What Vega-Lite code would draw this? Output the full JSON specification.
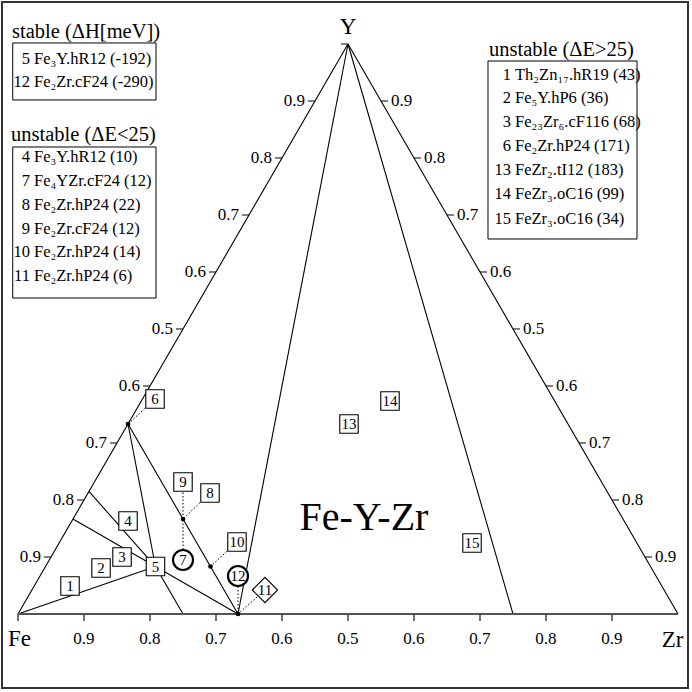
{
  "$schema": "https://vega.github.io/schema/vega-lite/v6.json",
  "width": 692,
  "height": 692,
  "autosize": {"type": "fit", "contains": "padding"},
  "padding": {"left": 2, "top": 2, "right": 4, "bottom": 4},
  "background": "white",
  "config": {"view": {"stroke": "#333", "strokeWidth": 2}, "font": "Liberation Serif, Times New Roman, DejaVu Serif, serif", "text": {"font": "Liberation Serif, Times New Roman, DejaVu Serif, serif"}},
  "datasets": {
    "edges": [
      {"x": 0, "y": 0, "x2": 0.5, "y2": 1},
      {"x": 0.5, "y": 1, "x2": 1, "y2": 0},
      {"x": 0, "y": 0, "x2": 0.2083, "y2": 0.0833},
      {"x": 0.0833, "y": 0.1667, "x2": 0.2083, "y2": 0.0833},
      {"x": 0.1075, "y": 0.215, "x2": 0.2083, "y2": 0.0833},
      {"x": 0.1667, "y": 0.3333, "x2": 0.2083, "y2": 0.0833},
      {"x": 0.2083, "y": 0.0833, "x2": 0.25, "y2": 0},
      {"x": 0.2083, "y": 0.0833, "x2": 0.3333, "y2": 0},
      {"x": 0.1667, "y": 0.3333, "x2": 0.3333, "y2": 0},
      {"x": 0.5, "y": 1, "x2": 0.3333, "y2": 0},
      {"x": 0.5, "y": 1, "x2": 0.75, "y2": 0}
    ],
    "base": [{"x": 0, "y": 0, "x2": 1, "y2": 0}],
    "leftTicks": [
      {"x": 0.05, "y": 0.1, "label": "0.9"},
      {"x": 0.1, "y": 0.2, "label": "0.8"},
      {"x": 0.15, "y": 0.3, "label": "0.7"},
      {"x": 0.2, "y": 0.4, "label": "0.6"},
      {"x": 0.25, "y": 0.5, "label": "0.5"},
      {"x": 0.3, "y": 0.6, "label": "0.6"},
      {"x": 0.35, "y": 0.7, "label": "0.7"},
      {"x": 0.4, "y": 0.8, "label": "0.8"},
      {"x": 0.45, "y": 0.9, "label": "0.9"},
      {"x": 0.5, "y": 1.0, "label": ""}
    ],
    "rightTicks": [
      {"x": 0.95, "y": 0.1, "label": "0.9"},
      {"x": 0.9, "y": 0.2, "label": "0.8"},
      {"x": 0.85, "y": 0.3, "label": "0.7"},
      {"x": 0.8, "y": 0.4, "label": "0.6"},
      {"x": 0.75, "y": 0.5, "label": "0.5"},
      {"x": 0.7, "y": 0.6, "label": "0.6"},
      {"x": 0.65, "y": 0.7, "label": "0.7"},
      {"x": 0.6, "y": 0.8, "label": "0.8"},
      {"x": 0.55, "y": 0.9, "label": "0.9"}
    ],
    "bottomTicks": [
      {"x": 0, "y": 0, "label": ""},
      {"x": 0.1, "y": 0, "label": "0.9"},
      {"x": 0.2, "y": 0, "label": "0.8"},
      {"x": 0.3, "y": 0, "label": "0.7"},
      {"x": 0.4, "y": 0, "label": "0.6"},
      {"x": 0.5, "y": 0, "label": "0.5"},
      {"x": 0.6, "y": 0, "label": "0.6"},
      {"x": 0.7, "y": 0, "label": "0.7"},
      {"x": 0.8, "y": 0, "label": "0.8"},
      {"x": 0.9, "y": 0, "label": "0.9"}
    ],
    "leaders": [
      {"x": 0.2076, "y": 0.3772, "x2": 0.1667, "y2": 0.3333},
      {"x": 0.25, "y": 0.2316, "x2": 0.25, "y2": 0.1667},
      {"x": 0.2909, "y": 0.2123, "x2": 0.25, "y2": 0.1667},
      {"x": 0.25, "y": 0.0947, "x2": 0.25, "y2": 0.1667},
      {"x": 0.3318, "y": 0.1263, "x2": 0.2917, "y2": 0.0833},
      {"x": 0.3333, "y": 0.0667, "x2": 0.3333, "y2": 0},
      {"x": 0.3742, "y": 0.0421, "x2": 0.3333, "y2": 0}
    ],
    "dots": [
      {"x": 0.1667, "y": 0.3333},
      {"x": 0.25, "y": 0.1667},
      {"x": 0.2917, "y": 0.0833},
      {"x": 0.3333, "y": 0}
    ],
    "squares": [
      {"n": "1", "x": 0.0788, "y": 0.0491},
      {"n": "2", "x": 0.1258, "y": 0.0807},
      {"n": "3", "x": 0.1576, "y": 0.1},
      {"n": "4", "x": 0.1667, "y": 0.1632},
      {"n": "5", "x": 0.2083, "y": 0.0833},
      {"n": "6", "x": 0.2076, "y": 0.3772},
      {"n": "8", "x": 0.2909, "y": 0.2123},
      {"n": "9", "x": 0.25, "y": 0.2316},
      {"n": "10", "x": 0.3318, "y": 0.1263},
      {"n": "13", "x": 0.5015, "y": 0.3333},
      {"n": "14", "x": 0.5636, "y": 0.3737},
      {"n": "15", "x": 0.6879, "y": 0.1246}
    ],
    "circles": [
      {"n": "7", "x": 0.25, "y": 0.0947},
      {"n": "12", "x": 0.3333, "y": 0.0667}
    ],
    "diamonds": [
      {"n": "11", "x": 0.3742, "y": 0.0421}
    ],
    "boxes": [
      {"x": -0.008, "x2": 0.2091, "y": 1.0018, "y2": 0.9018},
      {"x": -0.008, "x2": 0.2091, "y": 0.8193, "y2": 0.5544},
      {"x": 0.7121, "x2": 0.9379, "y": 0.9702, "y2": 0.6579}
    ],
    "headers": [
      {"x": -0.009, "y": 1.0105, "text": "stable (ΔH[meV])"},
      {"x": -0.0106, "y": 0.8298, "text": "unstable (ΔE<25)"},
      {"x": 0.7136, "y": 0.9789, "text": "unstable (ΔE>25)"}
    ],
    "items": [
      {"xn": 0.0182, "xt": 0.0242, "y": 0.9649, "num": "5", "name": "Fe₃Y.hR12 (-192)"},
      {"xn": 0.0182, "xt": 0.0242, "y": 0.9246, "num": "12", "name": "Fe₂Zr.cF24 (-290)"},
      {"xn": 0.0182, "xt": 0.0242, "y": 0.7930, "num": "4", "name": "Fe₃Y.hR12 (10)"},
      {"xn": 0.0182, "xt": 0.0242, "y": 0.7509, "num": "7", "name": "Fe₄YZr.cF24 (12)"},
      {"xn": 0.0182, "xt": 0.0242, "y": 0.7088, "num": "8", "name": "Fe₂Zr.hP24 (22)"},
      {"xn": 0.0182, "xt": 0.0242, "y": 0.6667, "num": "9", "name": "Fe₂Zr.cF24 (12)"},
      {"xn": 0.0182, "xt": 0.0242, "y": 0.6263, "num": "10", "name": "Fe₂Zr.hP24 (14)"},
      {"xn": 0.0182, "xt": 0.0242, "y": 0.5842, "num": "11", "name": "Fe₂Zr.hP24 (6)"},
      {"xn": 0.747, "xt": 0.753, "y": 0.9368, "num": "1", "name": "Th₂Zn₁₇.hR19 (43)"},
      {"xn": 0.747, "xt": 0.753, "y": 0.8965, "num": "2", "name": "Fe₅Y.hP6 (36)"},
      {"xn": 0.747, "xt": 0.753, "y": 0.8544, "num": "3", "name": "Fe₂₃Zr₆.cF116 (68)"},
      {"xn": 0.747, "xt": 0.753, "y": 0.8123, "num": "6", "name": "Fe₂Zr.hP24 (171)"},
      {"xn": 0.747, "xt": 0.753, "y": 0.7702, "num": "13", "name": "FeZr₂.tI12 (183)"},
      {"xn": 0.747, "xt": 0.753, "y": 0.7281, "num": "14", "name": "FeZr₃.oC16 (99)"},
      {"xn": 0.747, "xt": 0.753, "y": 0.6842, "num": "15", "name": "FeZr₃.oC16 (34)"}
    ],
    "vertexLabels": [
      {"x": 0.5, "y": 1.0175, "text": "Y"},
      {"x": 0.0023, "y": -0.0561, "text": "Fe"},
      {"x": 0.9917, "y": -0.0579, "text": "Zr"}
    ],
    "title": [{"x": 0.5242, "y": 0.1474, "text": "Fe-Y-Zr"}]
  },
  "layer": [
    {
      "data": {"name": "edges"},
      "mark": {"type": "rule", "color": "black", "strokeWidth": 1.1},
      "encoding": {
        "x": {"field": "x", "type": "quantitative", "scale": {"domain": [-0.024242, 1.015152], "nice": false, "zero": false}, "axis": null},
        "y": {"field": "y", "type": "quantitative", "scale": {"domain": [-0.129825, 1.073684], "nice": false, "zero": false}, "axis": null},
        "x2": {"field": "x2"},
        "y2": {"field": "y2"}
      }
    },
    {
      "data": {"name": "base"},
      "mark": {"type": "rule", "color": "#555", "strokeWidth": 2},
      "encoding": {
        "x": {"field": "x", "type": "quantitative", "scale": {"domain": [-0.024242, 1.015152], "nice": false, "zero": false}, "axis": null},
        "y": {"field": "y", "type": "quantitative", "scale": {"domain": [-0.129825, 1.073684], "nice": false, "zero": false}, "axis": null},
        "x2": {"field": "x2"},
        "y2": {"field": "y2"}
      }
    },
    {
      "data": {"name": "leftTicks"},
      "mark": {"type": "rule", "color": "black", "strokeWidth": 1, "x2Offset": -7},
      "encoding": {
        "x": {"field": "x", "type": "quantitative", "scale": {"domain": [-0.024242, 1.015152], "nice": false, "zero": false}, "axis": null},
        "y": {"field": "y", "type": "quantitative", "scale": {"domain": [-0.129825, 1.073684], "nice": false, "zero": false}, "axis": null},
        "x2": {"field": "x"}
      }
    },
    {
      "data": {"name": "leftTicks"},
      "mark": {"type": "text", "font": "Liberation Serif, Times New Roman, DejaVu Serif, serif", "fontSize": 17, "align": "right", "baseline": "middle", "dx": -10, "color": "black"},
      "encoding": {
        "x": {"field": "x", "type": "quantitative", "scale": {"domain": [-0.024242, 1.015152], "nice": false, "zero": false}, "axis": null},
        "y": {"field": "y", "type": "quantitative", "scale": {"domain": [-0.129825, 1.073684], "nice": false, "zero": false}, "axis": null},
        "text": {"field": "label"}
      }
    },
    {
      "data": {"name": "rightTicks"},
      "mark": {"type": "rule", "color": "black", "strokeWidth": 1, "x2Offset": 7},
      "encoding": {
        "x": {"field": "x", "type": "quantitative", "scale": {"domain": [-0.024242, 1.015152], "nice": false, "zero": false}, "axis": null},
        "y": {"field": "y", "type": "quantitative", "scale": {"domain": [-0.129825, 1.073684], "nice": false, "zero": false}, "axis": null},
        "x2": {"field": "x"}
      }
    },
    {
      "data": {"name": "rightTicks"},
      "mark": {"type": "text", "font": "Liberation Serif, Times New Roman, DejaVu Serif, serif", "fontSize": 17, "align": "left", "baseline": "middle", "dx": 10, "color": "black"},
      "encoding": {
        "x": {"field": "x", "type": "quantitative", "scale": {"domain": [-0.024242, 1.015152], "nice": false, "zero": false}, "axis": null},
        "y": {"field": "y", "type": "quantitative", "scale": {"domain": [-0.129825, 1.073684], "nice": false, "zero": false}, "axis": null},
        "text": {"field": "label"}
      }
    },
    {
      "data": {"name": "bottomTicks"},
      "mark": {"type": "rule", "color": "#444", "strokeWidth": 1.5, "y2Offset": 7},
      "encoding": {
        "x": {"field": "x", "type": "quantitative", "scale": {"domain": [-0.024242, 1.015152], "nice": false, "zero": false}, "axis": null},
        "y": {"field": "y", "type": "quantitative", "scale": {"domain": [-0.129825, 1.073684], "nice": false, "zero": false}, "axis": null},
        "y2": {"field": "y"}
      }
    },
    {
      "data": {"name": "bottomTicks"},
      "mark": {"type": "text", "font": "Liberation Serif, Times New Roman, DejaVu Serif, serif", "fontSize": 17, "align": "center", "baseline": "alphabetic", "dy": 30, "color": "black"},
      "encoding": {
        "x": {"field": "x", "type": "quantitative", "scale": {"domain": [-0.024242, 1.015152], "nice": false, "zero": false}, "axis": null},
        "y": {"field": "y", "type": "quantitative", "scale": {"domain": [-0.129825, 1.073684], "nice": false, "zero": false}, "axis": null},
        "text": {"field": "label"}
      }
    },
    {
      "data": {"name": "leaders"},
      "mark": {"type": "rule", "color": "black", "strokeWidth": 1, "strokeDash": [1.5, 2]},
      "encoding": {
        "x": {"field": "x", "type": "quantitative", "scale": {"domain": [-0.024242, 1.015152], "nice": false, "zero": false}, "axis": null},
        "y": {"field": "y", "type": "quantitative", "scale": {"domain": [-0.129825, 1.073684], "nice": false, "zero": false}, "axis": null},
        "x2": {"field": "x2"},
        "y2": {"field": "y2"}
      }
    },
    {
      "data": {"name": "dots"},
      "mark": {"type": "point", "shape": "circle", "filled": true, "color": "black", "size": 22, "opacity": 1},
      "encoding": {
        "x": {"field": "x", "type": "quantitative", "scale": {"domain": [-0.024242, 1.015152], "nice": false, "zero": false}, "axis": null},
        "y": {"field": "y", "type": "quantitative", "scale": {"domain": [-0.129825, 1.073684], "nice": false, "zero": false}, "axis": null}
      }
    },
    {
      "data": {"name": "squares"},
      "mark": {"type": "point", "shape": "square", "size": 340, "fill": "white", "fillOpacity": 1, "stroke": "black", "strokeWidth": 1.1, "opacity": 1},
      "encoding": {
        "x": {"field": "x", "type": "quantitative", "scale": {"domain": [-0.024242, 1.015152], "nice": false, "zero": false}, "axis": null},
        "y": {"field": "y", "type": "quantitative", "scale": {"domain": [-0.129825, 1.073684], "nice": false, "zero": false}, "axis": null}
      }
    },
    {
      "data": {"name": "circles"},
      "mark": {"type": "point", "shape": "circle", "size": 400, "fill": "white", "fillOpacity": 1, "stroke": "black", "strokeWidth": 2.2, "opacity": 1},
      "encoding": {
        "x": {"field": "x", "type": "quantitative", "scale": {"domain": [-0.024242, 1.015152], "nice": false, "zero": false}, "axis": null},
        "y": {"field": "y", "type": "quantitative", "scale": {"domain": [-0.129825, 1.073684], "nice": false, "zero": false}, "axis": null}
      }
    },
    {
      "data": {"name": "diamonds"},
      "mark": {"type": "point", "shape": "diamond", "size": 640, "fill": "white", "fillOpacity": 1, "stroke": "black", "strokeWidth": 1.1, "opacity": 1},
      "encoding": {
        "x": {"field": "x", "type": "quantitative", "scale": {"domain": [-0.024242, 1.015152], "nice": false, "zero": false}, "axis": null},
        "y": {"field": "y", "type": "quantitative", "scale": {"domain": [-0.129825, 1.073684], "nice": false, "zero": false}, "axis": null}
      }
    },
    {
      "data": {"name": "squares"},
      "mark": {"type": "text", "font": "Liberation Serif, Times New Roman, DejaVu Serif, serif", "fontSize": 15, "align": "center", "baseline": "middle", "color": "black"},
      "encoding": {
        "x": {"field": "x", "type": "quantitative", "scale": {"domain": [-0.024242, 1.015152], "nice": false, "zero": false}, "axis": null},
        "y": {"field": "y", "type": "quantitative", "scale": {"domain": [-0.129825, 1.073684], "nice": false, "zero": false}, "axis": null},
        "text": {"field": "n"}
      }
    },
    {
      "data": {"name": "circles"},
      "mark": {"type": "text", "font": "Liberation Serif, Times New Roman, DejaVu Serif, serif", "fontSize": 15, "align": "center", "baseline": "middle", "color": "black"},
      "encoding": {
        "x": {"field": "x", "type": "quantitative", "scale": {"domain": [-0.024242, 1.015152], "nice": false, "zero": false}, "axis": null},
        "y": {"field": "y", "type": "quantitative", "scale": {"domain": [-0.129825, 1.073684], "nice": false, "zero": false}, "axis": null},
        "text": {"field": "n"}
      }
    },
    {
      "data": {"name": "diamonds"},
      "mark": {"type": "text", "font": "Liberation Serif, Times New Roman, DejaVu Serif, serif", "fontSize": 15, "align": "center", "baseline": "middle", "color": "black"},
      "encoding": {
        "x": {"field": "x", "type": "quantitative", "scale": {"domain": [-0.024242, 1.015152], "nice": false, "zero": false}, "axis": null},
        "y": {"field": "y", "type": "quantitative", "scale": {"domain": [-0.129825, 1.073684], "nice": false, "zero": false}, "axis": null},
        "text": {"field": "n"}
      }
    },
    {
      "data": {"name": "boxes"},
      "mark": {"type": "rect", "fill": null, "stroke": "black", "strokeWidth": 1},
      "encoding": {
        "x": {"field": "x", "type": "quantitative", "scale": {"domain": [-0.024242, 1.015152], "nice": false, "zero": false}, "axis": null},
        "y": {"field": "y", "type": "quantitative", "scale": {"domain": [-0.129825, 1.073684], "nice": false, "zero": false}, "axis": null},
        "x2": {"field": "x2"},
        "y2": {"field": "y2"}
      }
    },
    {
      "data": {"name": "headers"},
      "mark": {"type": "text", "font": "Liberation Serif, Times New Roman, DejaVu Serif, serif", "fontSize": 20.5, "align": "left", "baseline": "alphabetic", "color": "black"},
      "encoding": {
        "x": {"field": "x", "type": "quantitative", "scale": {"domain": [-0.024242, 1.015152], "nice": false, "zero": false}, "axis": null},
        "y": {"field": "y", "type": "quantitative", "scale": {"domain": [-0.129825, 1.073684], "nice": false, "zero": false}, "axis": null},
        "text": {"field": "text"}
      }
    },
    {
      "data": {"name": "items"},
      "mark": {"type": "text", "font": "Liberation Serif, Times New Roman, DejaVu Serif, serif", "fontSize": 16.5, "align": "right", "baseline": "alphabetic", "color": "black"},
      "encoding": {
        "x": {"field": "xn", "type": "quantitative", "scale": {"domain": [-0.024242, 1.015152], "nice": false, "zero": false}, "axis": null},
        "y": {"field": "y", "type": "quantitative", "scale": {"domain": [-0.129825, 1.073684], "nice": false, "zero": false}, "axis": null},
        "text": {"field": "num"}
      }
    },
    {
      "data": {"name": "items"},
      "mark": {"type": "text", "font": "Liberation Serif, Times New Roman, DejaVu Serif, serif", "fontSize": 16.5, "align": "left", "baseline": "alphabetic", "color": "black"},
      "encoding": {
        "x": {"field": "xt", "type": "quantitative", "scale": {"domain": [-0.024242, 1.015152], "nice": false, "zero": false}, "axis": null},
        "y": {"field": "y", "type": "quantitative", "scale": {"domain": [-0.129825, 1.073684], "nice": false, "zero": false}, "axis": null},
        "text": {"field": "name"}
      }
    },
    {
      "data": {"name": "vertexLabels"},
      "mark": {"type": "text", "font": "Liberation Serif, Times New Roman, DejaVu Serif, serif", "fontSize": 23, "align": "center", "baseline": "alphabetic", "color": "black"},
      "encoding": {
        "x": {"field": "x", "type": "quantitative", "scale": {"domain": [-0.024242, 1.015152], "nice": false, "zero": false}, "axis": null},
        "y": {"field": "y", "type": "quantitative", "scale": {"domain": [-0.129825, 1.073684], "nice": false, "zero": false}, "axis": null},
        "text": {"field": "text"}
      }
    },
    {
      "data": {"name": "title"},
      "mark": {"type": "text", "font": "Liberation Serif, Times New Roman, DejaVu Serif, serif", "fontSize": 40, "align": "center", "baseline": "alphabetic", "color": "black"},
      "encoding": {
        "x": {"field": "x", "type": "quantitative", "scale": {"domain": [-0.024242, 1.015152], "nice": false, "zero": false}, "axis": null},
        "y": {"field": "y", "type": "quantitative", "scale": {"domain": [-0.129825, 1.073684], "nice": false, "zero": false}, "axis": null},
        "text": {"field": "text"}
      }
    }
  ]
}
